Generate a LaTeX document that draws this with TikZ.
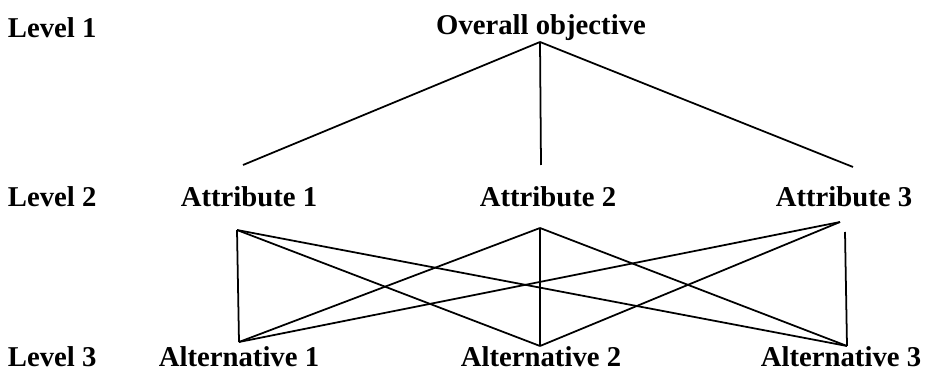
\documentclass[tikz,border=0pt]{standalone}
\usepackage{fontspec}
\setmainfont{Liberation Serif}

\begin{document}
\begin{tikzpicture}[x=0.03cm, y=-0.03cm, line width=1.5pt,
    lbl/.style={font=\fontsize{24.5}{29}\selectfont\bfseries, inner sep=0pt}]
  \useasboundingbox (0,0) rectangle (929,374);
  % level names
  \node[lbl, anchor=west] (lev1) at (7,28) {Level 1};
  \node[lbl, anchor=west] (lev2) at (7,197) {Level 2};
  \node[lbl, anchor=west] (lev3) at (7,357) {Level 3};
  % hierarchy
  \node[lbl] (obj) at (541,28) {Overall objective};
  \node[lbl] (att1) at (249,197) {Attribute 1};
  \node[lbl] (att2) at (548,197) {Attribute 2};
  \node[lbl] (att3) at (844,197) {Attribute 3};
  \node[lbl] (alt1) at (239,357) {Alternative 1};
  \node[lbl] (alt2) at (541,357) {Alternative 2};
  \node[lbl] (alt3) at (841,357) {Alternative 3};
  % where the lines meet the texts
  \coordinate (obj-b) at (540,42);
  \coordinate (att1-t) at (243,165);
  \coordinate (att2-t) at (541,165);
  \coordinate (att3-t) at (853,167);
  \coordinate (att1-b) at (237,230);
  \coordinate (att2-b) at (540,228);
  \coordinate (att3-b) at (840,222);
  \coordinate (att1-v) at (237,230);
  \coordinate (att2-v) at (540,228);
  \coordinate (att3-v) at (845,232);
  \coordinate (alt1-t) at (239,342);
  \coordinate (alt2-t) at (540,346);
  \coordinate (alt3-t) at (847,346);
  \foreach \i in {1,2,3}
    \draw (obj-b) -- (att\i-t);
  \foreach \i/\j in {1/2,1/3,2/1,2/3,3/1,3/2}
    \draw (att\i-b) -- (alt\j-t);
  \foreach \i in {1,2,3}
    \draw (att\i-v) -- (alt\i-t);
\end{tikzpicture}
\end{document}
